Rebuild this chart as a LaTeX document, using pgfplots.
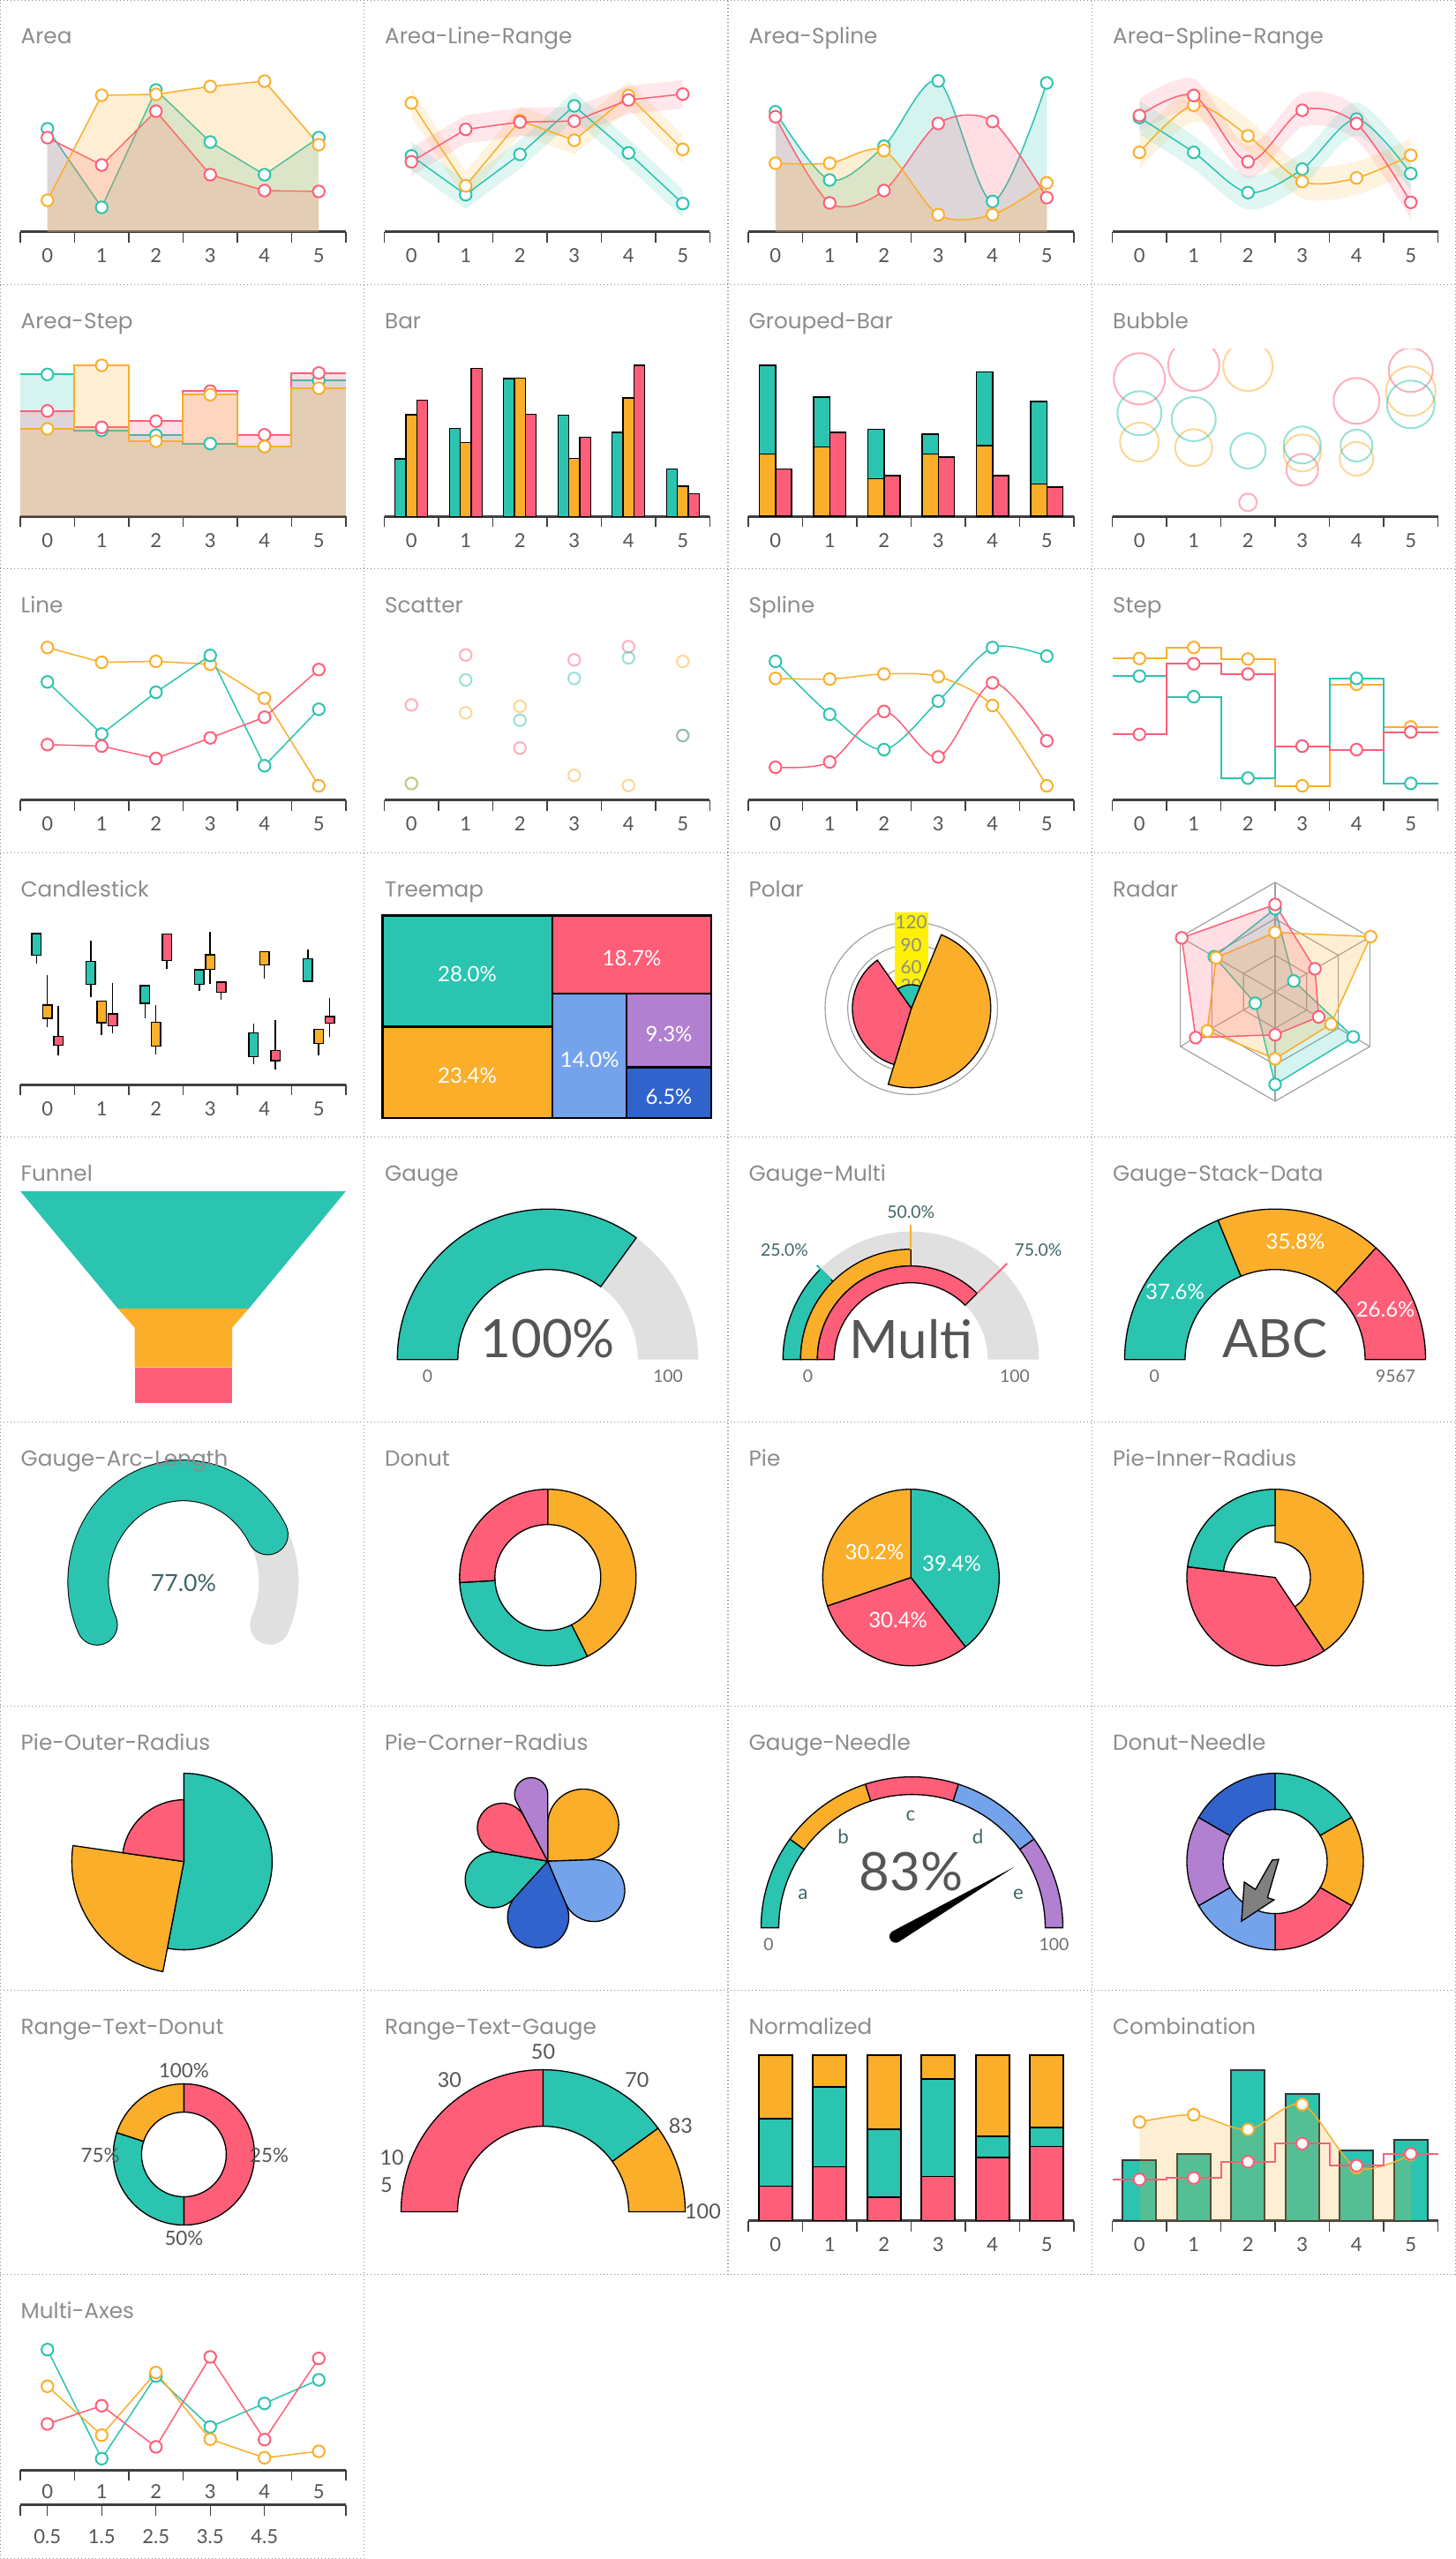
\documentclass[border=0pt]{standalone}
\usepackage{fontspec}
\setmainfont{Lato}
\newfontfamily\titlefont{Poppins}
\usepackage{pgfplots}
\pgfplotsset{compat=1.18}
\usepgfplotslibrary{fillbetween}
\definecolor{cT}{RGB}{43,196,176}
\definecolor{cR}{RGB}{255,94,120}
\definecolor{cO}{RGB}{251,174,42}
\definecolor{cB}{RGB}{116,163,236}
\definecolor{cP}{RGB}{177,128,208}
\definecolor{cD}{RGB}{48,100,204}
\definecolor{cG}{RGB}{224,224,224}
\definecolor{titlec}{RGB}{140,140,140}
\definecolor{tickc}{RGB}{85,85,85}
\definecolor{axisc}{RGB}{64,64,64}
\definecolor{lblc}{RGB}{62,102,102}
\definecolor{gridc}{RGB}{160,160,160}
\definecolor{bigc}{RGB}{85,85,85}
\definecolor{smallc}{RGB}{110,110,110}
\newcommand{\fT}{\titlefont\fontsize{7.4}{9}\selectfont}
\newcommand{\fS}{\fontsize{5.8}{7}\selectfont}
\newcommand{\fM}{\fontsize{7.2}{8}\selectfont}
\newcommand{\fB}{\fontsize{18}{20}\selectfont}
\newcommand{\fP}{\fontsize{6.2}{7}\selectfont}
\newcommand{\setcell}[4]{\pgfmathsetmacro{\cX}{123.75*#1+0.3*(#3)}\pgfmathsetmacro{\cY}{870-96.6667*#2-0.3*(#4)}}
\newcommand{\ttl}[3]{\setcell{#1}{#2}{23}{50}\node[anchor=base west,inner sep=0pt,font=\fT,text=titlec] at (\cX pt,\cY pt) {#3};}
\newcommand{\sect}[4]{\path[#1] (axis cs:0,0) -- ++(#2:{#4*0.3pt}) arc[start angle=#2,end angle=#3,radius={#4*0.3pt}] -- cycle;}
\newcommand{\ring}[5]{\path[#1] ([shift={(#2:{#5*0.3pt})}]axis cs:0,0) arc[start angle=#2,end angle=#3,radius={#5*0.3pt}] -- ([shift={(#3:{#4*0.3pt})}]axis cs:0,0) arc[start angle=#3,end angle=#2,radius={#4*0.3pt}] -- cycle;}
% candle: color, x, x left, x right, low, open/lower body, upper body, high
\newcommand{\candle}[8]{\addplot[black,line width=0.45pt] coordinates {(#2,#5)(#2,#8)};
\addplot[fill=#1,draw=black,line width=0.45pt] coordinates {(#3,#6)(#4,#6)(#4,#7)(#3,#7)} -- cycle;}
\tikzset{sl/.style={fill=#1,draw=black,line width=0.4pt}}
\pgfplotsset{
 cat/.style={scale only axis,width=110.7pt,height=57pt,xmin=-0.5,xmax=5.5,ymin=0,ymax=190,
   axis x line*=bottom,axis y line=none,xtick={0,...,5},xticklabels={0,1,2,3,4,5},
   minor xtick={-0.5,0.5,...,5.5},major tick length=0pt,minor tick length=3.6pt,tick align=outside,
   x axis line style={line width=0.9pt,draw=axisc},minor tick style={line width=0.35pt,draw=axisc},
   xticklabel style={font=\fontsize{6.6}{7}\selectfont,text=tickc,anchor=base,yshift=-10.5pt},
   anchor=south west,clip=false},
 ln/.style={line width=0.45pt,draw=#1,mark=*,mark size=2pt,mark options={fill=white,draw=#1,line width=0.6pt,solid,fill opacity=1,draw opacity=1}},
 mk/.style={only marks,mark=*,mark size=2pt,mark options={fill=white,draw=#1,line width=0.6pt,fill opacity=1,draw opacity=1}},
 ar/.style={fill=#1,fill opacity=0.2,draw=none},
 canvas/.style={x=0.3pt,y=0.3pt,hide axis,clip=false,anchor=origin,xmin=-10,xmax=10,ymin=-10,ymax=10},
}
\begin{document}
\begin{tikzpicture}
\tikzset{dl/.style={draw=black!45,line width=0.35pt,dash pattern=on 0.35pt off 0.85pt}}
\draw[dl] (0,869.8pt) -- (495pt,869.8pt);
\foreach \k in {1,...,8}{\draw[dl] (0,{870pt-96.6667pt*\k}) -- (495pt,{870pt-96.6667pt*\k});}
\draw[dl] (0,0.2pt) -- (123.75pt,0.2pt);
\draw[dl] (0.2pt,0) -- (0.2pt,870pt);
\draw[dl] (123.75pt,0) -- (123.75pt,870pt);
\draw[dl] (247.5pt,96.6667pt) -- (247.5pt,870pt);
\draw[dl] (371.25pt,96.6667pt) -- (371.25pt,870pt);
\draw[dl] (494.8pt,96.6667pt) -- (494.8pt,870pt);

% ---------------- Row 0
\setcell{0}{0}{23}{263}
\begin{axis}[cat,at={(\cX pt,\cY pt)}]
\addplot[ar=cT] coordinates {(0,117)(1,28)(2,161)(3,102)(4,65)(5,107)} \closedcycle;
\addplot[ln=cT] coordinates {(0,117)(1,28)(2,161)(3,102)(4,65)(5,107)};
\addplot[ar=cR] coordinates {(0,107)(1,76)(2,137)(3,65)(4,47)(5,46)} \closedcycle;
\addplot[ln=cR] coordinates {(0,107)(1,76)(2,137)(3,65)(4,47)(5,46)};
\addplot[ar=cO] coordinates {(0,36)(1,155)(2,156)(3,165)(4,171)(5,99)} \closedcycle;
\addplot[ln=cO] coordinates {(0,36)(1,155)(2,156)(3,165)(4,171)(5,99)};
\end{axis}

\setcell{1}{0}{23}{263}
\begin{axis}[cat,at={(\cX pt,\cY pt)}]
\addplot[ar=cO,fill opacity=0.15] coordinates {(0,162.3)(1,68.3)(2,142.3)(3,120)(4,170.7)(5,109.7)(5,77.7)(4,138.7)(3,88)(2,110.3)(1,36.3)(0,130.3)} -- cycle;
\addplot[ar=cR,fill opacity=0.15] coordinates {(0,95.7)(1,132.3)(2,140.7)(3,141.7)(4,165.7)(5,172.3)(5,140.3)(4,133.7)(3,109.7)(2,108.7)(1,100.3)(0,63.7)} -- cycle;
\addplot[ar=cT,fill opacity=0.15] coordinates {(0,102.3)(1,58.3)(2,104)(3,159)(4,105.7)(5,48.3)(5,16.3)(4,73.7)(3,127)(2,72)(1,26.3)(0,70.3)} -- cycle;
\addplot[ln=cT] coordinates {(0,86.3)(1,42.3)(2,88)(3,143)(4,89.7)(5,32.3)};
\addplot[ln=cO] coordinates {(0,146.3)(1,52.3)(2,126.3)(3,104)(4,154.7)(5,93.7)};
\addplot[ln=cR] coordinates {(0,79.7)(1,116.3)(2,124.7)(3,125.7)(4,149.7)(5,156.3)};
\end{axis}

\setcell{2}{0}{23}{263}
\begin{axis}[cat,at={(\cX pt,\cY pt)}]
\addplot[ar=cT,smooth] coordinates {(0,136.3)(1,59)(2,97.3)(3,171.3)(4,34.7)(5,169)} \closedcycle;
\addplot[ln=cT,smooth] coordinates {(0,136.3)(1,59)(2,97.3)(3,171.3)(4,34.7)(5,169)};
\addplot[ar=cR,smooth] coordinates {(0,130.7)(1,33)(2,47)(3,123)(4,125.3)(5,39)} \closedcycle;
\addplot[ln=cR,smooth] coordinates {(0,130.7)(1,33)(2,47)(3,123)(4,125.3)(5,39)};
\addplot[ar=cO,smooth] coordinates {(0,78)(1,78)(2,92.3)(3,19.7)(4,19.7)(5,55.7)} \closedcycle;
\addplot[ln=cO,smooth] coordinates {(0,78)(1,78)(2,92.3)(3,19.7)(4,19.7)(5,55.7)};
\end{axis}

\setcell{3}{0}{23}{263}
\begin{axis}[cat,at={(\cX pt,\cY pt)}]
\addplot[smooth,draw=none,name path=rU] coordinates {(0,151)(1,173.7)(2,98.7)(3,157)(4,142)(5,52.7)};
\addplot[smooth,draw=none,name path=rL] coordinates {(0,113)(1,135.7)(2,60.7)(3,119)(4,104)(5,14.7)};
\addplot[ar=cR,fill opacity=0.15] fill between[of=rU and rL];
\addplot[smooth,draw=none,name path=oU] coordinates {(0,109.3)(1,162.7)(2,128)(3,76.3)(4,80.3)(5,106)};
\addplot[smooth,draw=none,name path=oL] coordinates {(0,71.3)(1,124.7)(2,90)(3,38.3)(4,42.3)(5,68)};
\addplot[ar=cO,fill opacity=0.15] fill between[of=oU and oL];
\addplot[smooth,draw=none,name path=tU] coordinates {(0,148.7)(1,109.3)(2,63.7)(3,90.3)(4,147)(5,85.3)};
\addplot[smooth,draw=none,name path=tL] coordinates {(0,110.7)(1,71.3)(2,25.7)(3,52.3)(4,109)(5,47.3)};
\addplot[ar=cT,fill opacity=0.15] fill between[of=tU and tL];
\addplot[ln=cT,smooth] coordinates {(0,129.7)(1,90.3)(2,44.7)(3,71.3)(4,128)(5,66.3)};
\addplot[ln=cO,smooth] coordinates {(0,90.3)(1,143.7)(2,109)(3,57.3)(4,61.3)(5,87)};
\addplot[ln=cR,smooth] coordinates {(0,132)(1,154.7)(2,79.7)(3,138)(4,123)(5,33.7)};
\end{axis}

% ---------------- Row 1
\setcell{0}{1}{23}{263}
\begin{axis}[cat,at={(\cX pt,\cY pt)}]
\addplot[ar=cT,const plot mark left] coordinates {(-0.5,160.9)(0.5,97.5)(1.5,91.9)(2.5,82.5)(3.5,79.2)(4.5,154.2)(5.5,154.2)} \closedcycle;
\addplot[cT,line width=0.6pt,const plot mark left] coordinates {(-0.5,160.9)(0.5,97.5)(1.5,91.9)(2.5,82.5)(3.5,79.2)(4.5,154.2)(5.5,154.2)};
\addplot[mk=cT] coordinates {(0,160.9)(1,97.5)(2,91.9)(3,82.5)(4,79.2)(5,154.2)};
\addplot[ar=cR,const plot mark left] coordinates {(-0.5,119.5)(0.5,100.9)(1.5,107.9)(2.5,141.9)(3.5,92.5)(4.5,162.5)(5.5,162.5)} \closedcycle;
\addplot[cR,line width=0.6pt,const plot mark left] coordinates {(-0.5,119.5)(0.5,100.9)(1.5,107.9)(2.5,141.9)(3.5,92.5)(4.5,162.5)(5.5,162.5)};
\addplot[mk=cR] coordinates {(0,119.5)(1,100.9)(2,107.9)(3,141.9)(4,92.5)(5,162.5)};
\addplot[ar=cO,const plot mark left] coordinates {(-0.5,99.2)(0.5,171.2)(1.5,85.2)(2.5,137.9)(3.5,79.2)(4.5,145.2)(5.5,145.2)} \closedcycle;
\addplot[cO,line width=0.6pt,const plot mark left] coordinates {(-0.5,99.2)(0.5,171.2)(1.5,85.2)(2.5,137.9)(3.5,79.2)(4.5,145.2)(5.5,145.2)};
\addplot[mk=cO] coordinates {(0,99.2)(1,171.2)(2,85.2)(3,137.9)(4,79.2)(5,145.2)};
\end{axis}

\setcell{1}{1}{23}{263}
\begin{axis}[cat,at={(\cX pt,\cY pt)}]
\addplot[ybar,bar width=0.2,bar shift=-0.2,fill=cT,draw=black,line width=0.4pt] coordinates {(0,65.2)(1,99.5)(2,156.2)(3,114.5)(4,95.2)(5,53.5)};
\addplot[ybar,bar width=0.2,bar shift=0,fill=cO,draw=black,line width=0.4pt] coordinates {(0,115.2)(1,83.5)(2,156.9)(3,65.9)(4,134.2)(5,34.2)};
\addplot[ybar,bar width=0.2,bar shift=0.2,fill=cR,draw=black,line width=0.4pt] coordinates {(0,131.9)(1,167.5)(2,115.9)(3,89.5)(4,171.2)(5,25.9)};
\end{axis}

\setcell{2}{1}{23}{263}
\begin{axis}[cat,at={(\cX pt,\cY pt)}]
\addplot[ybar,bar width=0.3,bar shift=-0.15,fill=cT,draw=black,line width=0.45pt] coordinates {(0,171.2)(1,135.2)(2,98.5)(3,93.2)(4,163.5)(5,130.2)};
\addplot[ybar,bar width=0.3,bar shift=-0.15,fill=cO,draw=black,line width=0.45pt] coordinates {(0,70.9)(1,78.5)(2,42.5)(3,70.9)(4,80.2)(5,36.5)};
\addplot[ybar,bar width=0.3,bar shift=0.15,fill=cR,draw=black,line width=0.45pt] coordinates {(0,53.5)(1,95.2)(2,46.2)(3,67.2)(4,46.2)(5,33.2)};
\end{axis}

\setcell{3}{1}{23}{263}
\begin{axis}[cat,at={(\cX pt,\cY pt)},clip=true,clip marker paths=true]
\addplot[scatter,only marks,mark=o,line width=0.6pt,scatter/use mapped color={draw=cR,draw opacity=0.5},visualization depends on={\thisrow{r}\as\rr},scatter/@pre marker code/.append style={/tikz/mark size=\rr}] table {
x y r
0 155.9 8.7
1 171.2 8.7
2 15.9 3
3 52.9 5.4
4 130.9 7.8
5 165.9 7.5
};
\addplot[scatter,only marks,mark=o,line width=0.6pt,scatter/use mapped color={draw=cO,draw opacity=0.5},visualization depends on={\thisrow{r}\as\rr},scatter/@pre marker code/.append style={/tikz/mark size=\rr}] table {
x y r
0 84.2 6.6
1 77.9 6.3
2 170.2 8.4
3 71.9 6.3
4 65.2 5.7
5 141.9 8.4
};
\addplot[scatter,only marks,mark=o,line width=0.6pt,scatter/use mapped color={draw=cT,draw opacity=0.5},visualization depends on={\thisrow{r}\as\rr},scatter/@pre marker code/.append style={/tikz/mark size=\rr}] table {
x y r
0 116.9 7.5
1 110.2 7.5
2 74.2 6
3 80.9 6.3
4 80.2 5.4
5 126.9 8.1
};
\end{axis}

% ---------------- Row 2
\setcell{0}{2}{23}{262.5}
\begin{axis}[cat,at={(\cX pt,\cY pt)}]
\addplot[ln=cO] coordinates {(0,173.1)(1,156.4)(2,157.4)(3,154.1)(4,115.7)(5,16.4)};
\addplot[ln=cT] coordinates {(0,134.1)(1,75.1)(2,122.4)(3,164.1)(4,39.1)(5,103.1)};
\addplot[ln=cR] coordinates {(0,63.1)(1,61.4)(2,47.4)(3,70.7)(4,94.1)(5,148.1)};
\end{axis}

\setcell{1}{2}{23}{262.5}
\begin{axis}[cat,at={(\cX pt,\cY pt)}]
\addplot[only marks,mark=o,mark size=2pt,mark options={draw=cR,draw opacity=0.5,line width=0.6pt}] coordinates {(0,108.1)(1,164.7)(2,59.1)(3,159.1)(4,174.1)(5,73.4)};
\addplot[only marks,mark=o,mark size=2pt,mark options={draw=cT,draw opacity=0.5,line width=0.6pt}] coordinates {(0,19.1)(1,136.4)(2,90.7)(3,138.1)(4,161.4)(5,73.4)};
\addplot[only marks,mark=o,mark size=2pt,mark options={draw=cO,draw opacity=0.5,line width=0.6pt}] coordinates {(0,19.1)(1,99.1)(2,106.4)(3,28.1)(4,16.7)(5,157.4)};
\end{axis}

\setcell{2}{2}{23}{262.5}
\begin{axis}[cat,at={(\cX pt,\cY pt)}]
\addplot[ln=cT,smooth] coordinates {(0,157.4)(1,97.4)(2,57.4)(3,112.4)(4,173.1)(5,163.4)};
\addplot[ln=cO,smooth] coordinates {(0,138.1)(1,137.4)(2,143.1)(3,140.1)(4,107.4)(5,16.4)};
\addplot[ln=cR,smooth] coordinates {(0,37.4)(1,43.4)(2,100.7)(3,49.1)(4,133.1)(5,67.4)};
\end{axis}

\setcell{3}{2}{23}{262.5}
\begin{axis}[cat,at={(\cX pt,\cY pt)}]
\addplot[cO,line width=0.6pt,const plot mark left] coordinates {(-0.5,160.7)(0.5,173.1)(1.5,160.1)(2.5,16.4)(3.5,131.4)(4.5,83.1)(5.5,83.1)};
\addplot[mk=cO] coordinates {(0,160.7)(1,173.1)(2,160.1)(3,16.4)(4,131.4)(5,83.1)};
\addplot[cT,line width=0.6pt,const plot mark left] coordinates {(-0.5,140.7)(0.5,117.4)(1.5,25.1)(2.5,61.4)(3.5,138.1)(4.5,19.1)(5.5,19.1)};
\addplot[mk=cT] coordinates {(0,140.7)(1,117.4)(2,25.1)(3,61.4)(4,138.1)(5,19.1)};
\addplot[cR,line width=0.6pt,const plot mark left] coordinates {(-0.5,74.7)(0.5,154.7)(1.5,143.1)(2.5,61.4)(3.5,57.4)(4.5,77.4)(5.5,77.4)};
\addplot[mk=cR] coordinates {(0,74.7)(1,154.7)(2,143.1)(3,61.4)(4,57.4)(5,77.4)};
\end{axis}

% ---------------- Row 3
\setcell{0}{3}{23}{262.5}
\begin{axis}[cat,at={(\cX pt,\cY pt)}]
\candle{cT}{-0.2}{-0.285}{-0.115}{137.0}{146.7}{171.0}{171.0}
\candle{cO}{0}{-0.085}{0.085}{65.0}{75.0}{90.0}{124.4}
\candle{cR}{0.2}{0.115}{0.285}{32.7}{44.4}{54.4}{89.4}
\candle{cT}{0.8}{0.715}{0.885}{99.4}{113.7}{139.4}{163.4}
\candle{cO}{1.0}{0.915}{1.085}{56.0}{70.0}{94.4}{94.4}
\candle{cR}{1.2}{1.115}{1.285}{57.7}{66.7}{80.0}{115.4}
\candle{cT}{1.8}{1.715}{1.885}{75.0}{92.0}{112.0}{113.4}
\candle{cO}{2.0}{1.915}{2.085}{34.4}{43.7}{70.4}{90.0}
\candle{cR}{2.2}{2.115}{2.285}{131.0}{140.4}{170.4}{171.0}
\candle{cT}{2.8}{2.715}{2.885}{106.0}{113.7}{130.0}{131.0}
\candle{cO}{3.0}{2.915}{3.085}{114.4}{130.4}{147.0}{172.7}
\candle{cR}{3.2}{3.115}{3.285}{96.0}{104.4}{116.0}{116.0}
\candle{cT}{3.8}{3.715}{3.885}{22.7}{31.7}{58.7}{69.4}
\candle{cO}{4.0}{3.915}{4.085}{120.0}{135.4}{150.4}{151.0}
\candle{cR}{4.2}{4.115}{4.285}{16.7}{27.0}{38.7}{72.7}
\candle{cT}{4.8}{4.715}{4.885}{117.0}{117.0}{142.7}{153.4}
\candle{cO}{5.0}{4.915}{5.085}{32.7}{46.7}{62.7}{62.7}
\candle{cR}{5.2}{5.115}{5.285}{54.4}{69.4}{77.0}{98.4}
\end{axis}

\setcell{1}{3}{0}{0}
\begin{axis}[canvas,at={(\cX pt,\cY pt)}]
\addplot[fill=cT,draw=black,line width=0.7pt] coordinates {(21,-71)(213.6,-71)(213.6,-197)(21,-197)} -- cycle;
\addplot[fill=cO,draw=black,line width=0.7pt] coordinates {(21,-197)(213.6,-197)(213.6,-300.6)(21,-300.6)} -- cycle;
\addplot[fill=cR,draw=black,line width=0.7pt] coordinates {(213.6,-71)(393.5,-71)(393.5,-159.3)(213.6,-159.3)} -- cycle;
\addplot[fill=cB,draw=black,line width=0.7pt] coordinates {(213.6,-159.3)(297.8,-159.3)(297.8,-300.6)(213.6,-300.6)} -- cycle;
\addplot[fill=cP,draw=black,line width=0.7pt] coordinates {(297.8,-159.3)(393.5,-159.3)(393.5,-243)(297.8,-243)} -- cycle;
\addplot[fill=cD,draw=black,line width=0.7pt] coordinates {(297.8,-243)(393.5,-243)(393.5,-300.6)(297.8,-300.6)} -- cycle;
\node[text=white,font=\fM] at (axis cs:117,-137) {28.0\%};
\node[text=white,font=\fM] at (axis cs:117,-252) {23.4\%};
\node[text=white,font=\fM] at (axis cs:303.5,-119) {18.7\%};
\node[text=white,font=\fM] at (axis cs:255.7,-234) {14.0\%};
\node[text=white,font=\fM] at (axis cs:345.6,-205) {9.3\%};
\node[text=white,font=\fM] at (axis cs:345.6,-276) {6.5\%};
\end{axis}

\setcell{2}{3}{207.7}{176}
\begin{axis}[canvas,at={(\cX pt,\cY pt)}]
\draw[gridc,line width=0.35pt] (axis cs:0,0) circle[radius=29.31pt];
\draw[gridc,line width=0.35pt] (axis cs:0,0) circle[radius=21.6pt];
\draw[gridc,line width=0.35pt] (axis cs:0,0) circle[radius=14.01pt];
\draw[gridc,line width=0.35pt] (axis cs:0,0) circle[radius=7.8pt];
\fill[yellow] (axis cs:-19,26) rectangle (axis cs:19,108.7);
\node[text=titlec,font=\fP] at (axis cs:0,97.7) {120};
\node[text=titlec,font=\fP] at (axis cs:0,72) {90};
\node[text=titlec,font=\fP] at (axis cs:0,46.7) {60};
\node[text=titlec,font=\fP] at (axis cs:0,26) {30};
\sect{sl=cO}{67.8}{-106.9}{90}
\sect{sl=cR}{-106.9}{-234.8}{66.7}
\sect{sl=cT}{125.2}{67.8}{26.7}
\end{axis}

\setcell{3}{3}{207.5}{157.3}
\begin{axis}[canvas,at={(\cX pt,\cY pt)}]
\addplot[data cs=polar,draw=gridc,line width=0.35pt] coordinates {(90,124)(30,124)(-30,124)(-90,124)(-150,124)(150,124)} -- cycle;
\addplot[data cs=polar,draw=gridc,line width=0.35pt] coordinates {(90,82.7)(30,82.7)(-30,82.7)(-90,82.7)(-150,82.7)(150,82.7)} -- cycle;
\addplot[data cs=polar,draw=gridc,line width=0.35pt] coordinates {(90,41.3)(30,41.3)(-30,41.3)(-90,41.3)(-150,41.3)(150,41.3)} -- cycle;
\addplot[data cs=polar,draw=gridc,line width=0.35pt] coordinates {(90,124)(-90,124)};
\addplot[data cs=polar,draw=gridc,line width=0.35pt] coordinates {(30,124)(-150,124)};
\addplot[data cs=polar,draw=gridc,line width=0.35pt] coordinates {(-30,124)(150,124)};
\addplot[data cs=polar,fill=cT,fill opacity=0.2,draw=cT,line width=0.45pt,mark=*,mark size=2pt,mark options={fill=white,fill opacity=1,draw=cT,line width=0.6pt}] coordinates {(90,94)(30,24.4)(-30,102.2)(-90,105)(-150,26)(150,79.6)} -- cycle;
\addplot[data cs=polar,fill=cO,fill opacity=0.2,draw=cO,line width=0.45pt,mark=*,mark size=2pt,mark options={fill=white,fill opacity=1,draw=cO,line width=0.6pt}] coordinates {(90,67.3)(30,125)(-30,73.2)(-90,76)(-150,88.8)(150,77.2)} -- cycle;
\addplot[data cs=polar,fill=cR,fill opacity=0.2,draw=cR,line width=0.45pt,mark=*,mark size=2pt,mark options={fill=white,fill opacity=1,draw=cR,line width=0.6pt}] coordinates {(90,99)(30,52.1)(-30,57)(-90,48.7)(-150,104)(150,122.2)} -- cycle;
\end{axis}

% ---------------- Row 4
\setcell{0}{4}{0}{0}
\begin{axis}[canvas,at={(\cX pt,\cY pt)}]
\addplot[fill=cT,draw=none] coordinates {(23,-61)(392,-61)(282,-194.1)(133.6,-194.1)} -- cycle;
\addplot[fill=cO,draw=none] coordinates {(133.6,-194.1)(282,-194.1)(263,-215.8)(263,-260.8)(152.6,-260.8)(152.6,-215.8)} -- cycle;
\addplot[fill=cR,draw=none] coordinates {(152.6,-260.8)(263,-260.8)(263,-300.8)(152.6,-300.8)} -- cycle;
\end{axis}

\setcell{1}{4}{208.3}{251.8}
\begin{axis}[canvas,at={(\cX pt,\cY pt)}]
\ring{fill=cG}{54}{0}{102}{170.5}
\ring{sl=cT}{180}{54}{102}{170.5}
\node[text=bigc,font=\fB] at (axis cs:0,23.4) {100\%};
\node[text=smallc,font=\fS] at (axis cs:-136.3,-19.2) {0};
\node[text=smallc,font=\fS] at (axis cs:136.3,-19.2) {100};
\end{axis}

\setcell{2}{4}{207.3}{251.8}
\begin{axis}[canvas,at={(\cX pt,\cY pt)}]
\ring{fill=cG}{180}{0}{87}{145}
\ring{sl=cT}{180}{135}{125}{145}
\ring{sl=cO}{180}{90}{106}{125}
\ring{sl=cR}{180}{45}{87}{106}
\draw[cT,line width=0.6pt] ([shift={(135:38.4pt)}]axis cs:0,0) -- ([shift={(135:45.3pt)}]axis cs:0,0);
\draw[cO,line width=0.6pt] ([shift={(90:37.5pt)}]axis cs:0,0) -- ([shift={(90:45.9pt)}]axis cs:0,0);
\draw[cR,line width=0.6pt] ([shift={(45:32.1pt)}]axis cs:0,0) -- ([shift={(45:46.2pt)}]axis cs:0,0);
\node[text=lblc,font=\fS] at (axis cs:-143.3,124) {25.0\%};
\node[text=lblc,font=\fS] at (axis cs:0,166.7) {50.0\%};
\node[text=lblc,font=\fS] at (axis cs:144.2,124) {75.0\%};
\node[text=bigc,font=\fB] at (axis cs:0,23.4) {Multi};
\node[text=smallc,font=\fS] at (axis cs:-116.8,-19.2) {0};
\node[text=smallc,font=\fS] at (axis cs:117.7,-19.2) {100};
\end{axis}

\setcell{3}{4}{207.5}{251.8}
\begin{axis}[canvas,at={(\cX pt,\cY pt)}]
\ring{sl=cT}{180}{112.3}{102}{170.5}
\ring{sl=cO}{112.3}{47.9}{102}{170.5}
\ring{sl=cR}{47.9}{0}{102}{170.5}
\node[text=white,font=\fM] at (axis cs:-113.5,76.8) {37.6\%};
\node[text=white,font=\fM] at (axis cs:23,134) {35.8\%};
\node[text=white,font=\fM] at (axis cs:125.1,56.8) {26.6\%};
\node[text=bigc,font=\fB] at (axis cs:0,23.4) {ABC};
\node[text=smallc,font=\fS] at (axis cs:-136.9,-19.2) {0};
\node[text=smallc,font=\fS] at (axis cs:136.5,-19.2) {9567};
\end{axis}

% ---------------- Row 5
\setcell{0}{5}{207.9}{181.6}
\begin{axis}[canvas,at={(\cX pt,\cY pt)}]
\draw[cG,line width=13.5pt,line cap=round] (axis cs:95.45,53.8) arc[start angle=27.9,end angle=-25,x radius=32.4pt,y radius=34.5pt];
\draw[black,line width=14.1pt,line cap=round] (axis cs:-97.88,-48.6) arc[start angle=205,end angle=27.9,x radius=32.4pt,y radius=34.5pt];
\draw[cT,line width=13.5pt,line cap=round] (axis cs:-97.88,-48.6) arc[start angle=205,end angle=27.9,x radius=32.4pt,y radius=34.5pt];
\node[text=lblc,font=\fontsize{8}{9}\selectfont] at (axis cs:0,-1.6) {77.0\%};
\end{axis}

\setcell{1}{5}{208.3}{176.6}
\begin{axis}[canvas,at={(\cX pt,\cY pt)}]
\ring{sl=cO}{90}{-63.4}{60}{100}
\ring{sl=cT}{-63.4}{-176.7}{60}{100}
\ring{sl=cR}{-176.7}{-270}{60}{100}
\end{axis}

\setcell{2}{5}{207.3}{176.6}
\begin{axis}[canvas,at={(\cX pt,\cY pt)}]
\sect{sl=cT}{90}{-51.8}{100}
\sect{sl=cR}{-51.8}{-161.2}{100}
\sect{sl=cO}{-161.2}{-270}{100}
\node[text=white,font=\fM] at (axis cs:46.2,15.6) {39.4\%};
\node[text=white,font=\fM] at (axis cs:-41.3,29) {30.2\%};
\node[text=white,font=\fM] at (axis cs:-14.7,-48.4) {30.4\%};
\end{axis}

\setcell{3}{5}{207.5}{176.6}
\begin{axis}[canvas,at={(\cX pt,\cY pt)}]
\ring{sl=cO}{90}{-56.2}{40}{100}
\sect{sl=cR}{-56.2}{-187}{100}
\ring{sl=cT}{-187}{-270}{59}{100}
\end{axis}

% ---------------- Row 6
\setcell{0}{6}{208.4}{176.3}
\begin{axis}[canvas,at={(\cX pt,\cY pt)}]
\sect{sl=cT}{90}{-100.8}{100}
\sect{sl=cO}{-100.8}{-188.2}{127}
\sect{sl=cR}{-188.2}{-270}{70}
\end{axis}

\setcell{1}{6}{208.2}{175.9}
\begin{axis}[canvas,at={(\cX pt,\cY pt)}]
\path[sl=cO] (axis cs:0,0) -- ++(90:12.47pt) arc[start angle=180,end angle=-88,radius=12.06pt] -- cycle;
\path[sl=cB] (axis cs:0,0) -- ++(2:15.3pt) arc[start angle=92,end angle=-157,radius=10.53pt] -- cycle;
\path[sl=cD] (axis cs:0,0) -- ++(-67:16.23pt) arc[start angle=23,end angle=-222.3,radius=10.41pt] -- cycle;
\path[sl=cT] (axis cs:0,0) -- ++(-132.3:17.19pt) arc[start angle=-42.3,end angle=-280,radius=9.48pt] -- cycle;
\path[sl=cR] (axis cs:0,0) -- ++(-190:17.22pt) arc[start angle=-100,end angle=-332.2,radius=8.43pt] -- cycle;
\path[sl=cP] (axis cs:0,0) -- ++(117.8:22.77pt) arc[start angle=207.8,end angle=0,radius=5.64pt] -- cycle;
\end{axis}

\setcell{2}{6}{208.5}{251.3}
\begin{axis}[canvas,at={(\cX pt,\cY pt)}]
\ring{sl=cT}{180}{144}{151}{171}
\ring{sl=cO}{144}{108}{151}{171}
\ring{sl=cR}{108}{72}{151}{171}
\ring{sl=cB}{72}{36}{151}{171}
\ring{sl=cP}{36}{0}{151}{171}
\node[text=lblc,font=\fontsize{6.7}{8}\selectfont] at (axis cs:-123.5,37.3) {a};
\node[text=lblc,font=\fontsize{6.7}{8}\selectfont] at (axis cs:-78,103.3) {b};
\node[text=lblc,font=\fontsize{6.7}{8}\selectfont] at (axis cs:-1.5,126.7) {c};
\node[text=lblc,font=\fontsize{6.7}{8}\selectfont] at (axis cs:74.5,103.3) {d};
\node[text=lblc,font=\fontsize{6.7}{8}\selectfont] at (axis cs:120.5,37.3) {e};
\node[text=bigc,font=\fB] at (axis cs:-1.2,63.3) {83\%};
\node[text=smallc,font=\fS] at (axis cs:-162.5,-19.3) {0};
\node[text=smallc,font=\fS] at (axis cs:161,-19.3) {100};
\fill[black] (axis cs:-22.04,-3.97) -- (axis cs:116.2,69) -- (axis cs:-14.96,-16.03) arc[start angle=-59.6,end angle=-239.6,radius=2.1pt] -- cycle;
\end{axis}

\setcell{3}{6}{207.5}{176.3}
\begin{axis}[canvas,at={(\cX pt,\cY pt)}]
\ring{sl=cT}{90}{30}{59}{100}
\ring{sl=cO}{30}{-30}{59}{100}
\ring{sl=cR}{-30}{-90}{59}{100}
\ring{sl=cB}{-90}{-150}{59}{100}
\ring{sl=cP}{-150}{-210}{59}{100}
\ring{sl=cD}{-210}{-270}{59}{100}
\addplot[fill=black!50,draw=black,line width=0.4pt] coordinates {(4,2.4)(-8.6,-41)(-1.2,-43.3)(-38.1,-67.6)(-34.9,-23.3)(-22.3,-31.6)(-3.3,1.7)} -- cycle;
\end{axis}

% ---------------- Row 7
\setcell{0}{7}{208.4}{186}
\begin{axis}[canvas,at={(\cX pt,\cY pt)}]
\ring{sl=cR}{90}{-90}{48}{80}
\ring{sl=cT}{-90}{-198}{48}{80}
\ring{sl=cO}{-198}{-270}{48}{80}
\node[text=tickc,font=\fontsize{6.7}{8}\selectfont] at (axis cs:0,94.9) {100\%};
\node[text=tickc,font=\fontsize{6.7}{8}\selectfont] at (axis cs:96.6,-1) {25\%};
\node[text=tickc,font=\fontsize{6.7}{8}\selectfont] at (axis cs:0,-95) {50\%};
\node[text=tickc,font=\fontsize{6.7}{8}\selectfont] at (axis cs:-94.8,-1) {75\%};
\end{axis}

\setcell{1}{7}{203}{251}
\begin{axis}[canvas,at={(\cX pt,\cY pt)}]
\ring{sl=cR}{180}{90}{97}{161}
\ring{sl=cT}{90}{36}{97}{161}
\ring{sl=cO}{36}{0}{97}{161}
\node[text=tickc,font=\fontsize{7}{8}\selectfont] at (axis cs:0,181.6) {50};
\node[text=tickc,font=\fontsize{7}{8}\selectfont] at (axis cs:-106.2,149.3) {30};
\node[text=tickc,font=\fontsize{7}{8}\selectfont] at (axis cs:106.4,149.3) {70};
\node[text=tickc,font=\fontsize{7}{8}\selectfont] at (axis cs:155.8,97.3) {83};
\node[text=tickc,font=\fontsize{7}{8}\selectfont] at (axis cs:-171.4,61.6) {10};
\node[text=tickc,font=\fontsize{7}{8}\selectfont] at (axis cs:-177.7,30.6) {5};
\node[text=tickc,font=\fontsize{7}{8}\selectfont] at (axis cs:181,0.6) {100};
\end{axis}

\setcell{2}{7}{23}{261}
\begin{axis}[cat,at={(\cX pt,\cY pt)},ymax=101.3]
\addplot[ybar,bar width=0.62,fill=cO,draw=black,line width=0.5pt] coordinates {(0,100)(1,100)(2,100)(3,100)(4,100)(5,100)};
\addplot[ybar,bar width=0.62,fill=cT,draw=black,line width=0.5pt] coordinates {(0,61.6)(1,80.8)(2,55.1)(3,85.6)(4,51)(5,56.3)};
\addplot[ybar,bar width=0.62,fill=cR,draw=black,line width=0.5pt] coordinates {(0,20.8)(1,32.5)(2,14.2)(3,26.6)(4,38.2)(5,44.8)};
\end{axis}

\setcell{3}{7}{23}{261}
\begin{axis}[cat,at={(\cX pt,\cY pt)}]
\addplot[ybar,bar width=0.62,fill=cT,draw=black!80,line width=0.5pt] coordinates {(0,68.3)(1,75.7)(2,170.7)(3,143.3)(4,79.3)(5,91.3)};
\addplot[ar=cO,smooth] coordinates {(0,111.7)(1,120)(2,103.3)(3,131.7)(4,60)(5,75)} \closedcycle;
\addplot[ln=cO,smooth] coordinates {(0,111.7)(1,120)(2,103.3)(3,131.7)(4,60)(5,75)};
\addplot[cR,line width=0.6pt,const plot mark left] coordinates {(-0.5,46.7)(0.5,48.3)(1.5,66.7)(2.5,87.3)(3.5,62.3)(4.5,75.7)(5.5,75.7)};
\addplot[mk=cR] coordinates {(0,46.7)(1,48.3)(2,66.7)(3,87.3)(4,62.3)(5,75.7)};
\end{axis}

% ---------------- Row 8
\setcell{0}{8}{23}{221.5}
\begin{axis}[cat,at={(\cX pt,\cY pt)},height=45pt,ymax=150,xticklabel style={yshift=0.7pt}]
\addplot[ln=cT] coordinates {(0,136.6)(1,13)(2,106.6)(3,49)(4,75.6)(5,102.3)};
\addplot[ln=cO] coordinates {(0,95)(1,39.6)(2,110.6)(3,35)(4,14)(5,21.3)};
\addplot[ln=cR] coordinates {(0,52.3)(1,73)(2,26.3)(3,128.3)(4,34.6)(5,126.6)};
\end{axis}
\setcell{0}{8}{23}{260.9}
\begin{axis}[scale only axis,width=110.7pt,height=2pt,xmin=0,xmax=6,ymin=0,ymax=1,
   axis x line*=bottom,axis y line=none,xtick={0.5,1.5,2.5,3.5,4.5},xticklabels={0.5,1.5,2.5,3.5,4.5},
   extra x ticks={0,6},extra x tick labels={},major tick length=3.6pt,tick align=outside,
   x axis line style={line width=0.9pt,draw=axisc},major tick style={line width=0.35pt,draw=axisc},
   xticklabel style={font=\fontsize{6.6}{7}\selectfont,text=tickc,anchor=base,yshift=-9.5pt},
   anchor=south west,at={(\cX pt,\cY pt)}]
\end{axis}

% ---------------- Titles
\ttl{0}{0}{Area}\ttl{1}{0}{Area-Line-Range}\ttl{2}{0}{Area-Spline}\ttl{3}{0}{Area-Spline-Range}
\ttl{0}{1}{Area-Step}\ttl{1}{1}{Bar}\ttl{2}{1}{Grouped-Bar}\ttl{3}{1}{Bubble}
\ttl{0}{2}{Line}\ttl{1}{2}{Scatter}\ttl{2}{2}{Spline}\ttl{3}{2}{Step}
\ttl{0}{3}{Candlestick}\ttl{1}{3}{Treemap}\ttl{2}{3}{Polar}\ttl{3}{3}{Radar}
\ttl{0}{4}{Funnel}\ttl{1}{4}{Gauge}\ttl{2}{4}{Gauge-Multi}\ttl{3}{4}{Gauge-Stack-Data}
\ttl{0}{5}{Gauge-Arc-Length}\ttl{1}{5}{Donut}\ttl{2}{5}{Pie}\ttl{3}{5}{Pie-Inner-Radius}
\ttl{0}{6}{Pie-Outer-Radius}\ttl{1}{6}{Pie-Corner-Radius}\ttl{2}{6}{Gauge-Needle}\ttl{3}{6}{Donut-Needle}
\ttl{0}{7}{Range-Text-Donut}\ttl{1}{7}{Range-Text-Gauge}\ttl{2}{7}{Normalized}\ttl{3}{7}{Combination}
\ttl{0}{8}{Multi-Axes}
\pgfresetboundingbox
\path[use as bounding box] (0,0) rectangle (495pt,870pt);
\end{tikzpicture}
\end{document}
